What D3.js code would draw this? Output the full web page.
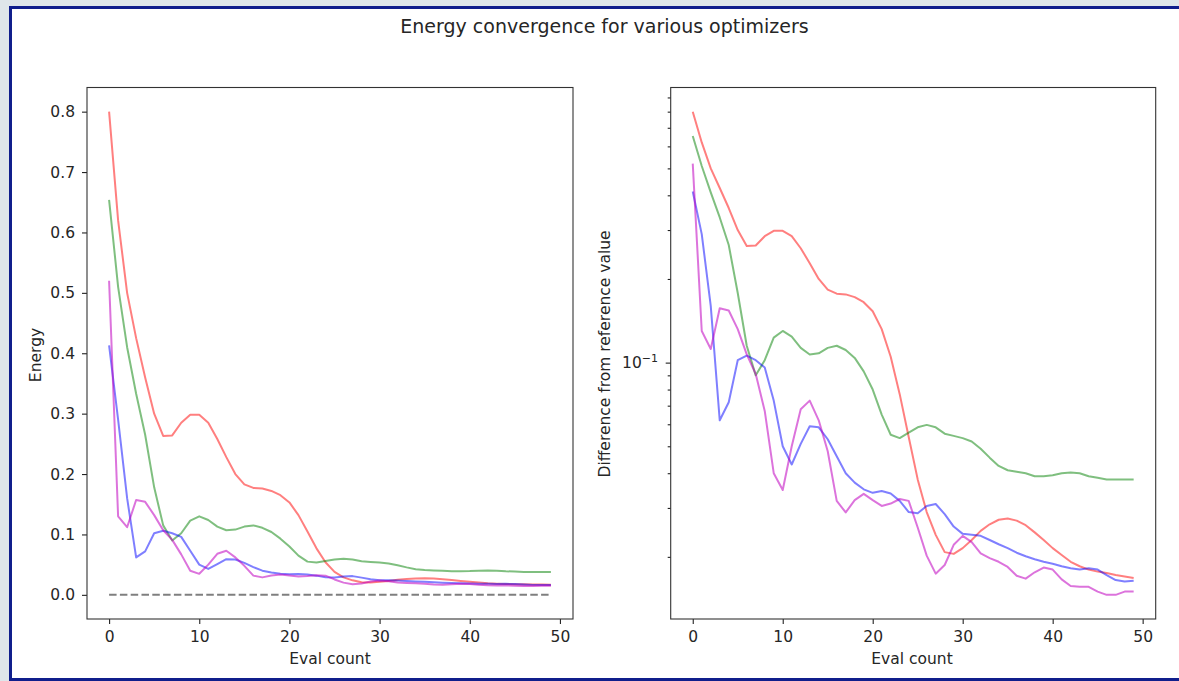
<!DOCTYPE html>
<html>
<head>
<meta charset="utf-8">
<script src="https://cdn.jsdelivr.net/npm/d3@7"></script>
<style>
  html, body { margin: 0; padding: 0; background: #dfe6ea; overflow: hidden; }
  #frame {
    position: absolute; left: 9px; top: 6px;
    width: 1190px; height: 669px;
    border: 3px solid #101e8c; background: #fff;
  }
  svg { position: absolute; left: 0; top: 0; }
  text { font-family: "DejaVu Sans", sans-serif; fill: #262626; }
</style>
</head>
<body>
<div id="frame"></div>
<svg id="chart" width="1179" height="681"></svg>
<script>
// energy per evaluation
var redEnergy = [0.80, 0.62, 0.50, 0.425, 0.36, 0.30, 0.263, 0.264, 0.285, 0.298,
    0.298, 0.285, 0.258, 0.228, 0.20, 0.183, 0.177, 0.176, 0.172, 0.165,
    0.153, 0.132, 0.105, 0.077, 0.054, 0.038, 0.029, 0.024, 0.0208, 0.0205,
    0.0215, 0.023, 0.0248, 0.0262, 0.0272, 0.0275, 0.0270, 0.0260, 0.0245, 0.0230,
    0.0215, 0.0203, 0.0192, 0.0185, 0.0180, 0.0177, 0.0175, 0.0172, 0.0170, 0.0168];
var greenEnergy = [0.654, 0.51, 0.41, 0.333, 0.265, 0.178, 0.115, 0.090, 0.102, 0.123,
    0.130, 0.124, 0.113, 0.107, 0.108, 0.113, 0.115, 0.111, 0.104, 0.093,
    0.080, 0.065, 0.055, 0.0535, 0.056, 0.0585, 0.0597, 0.0585, 0.0555, 0.0545,
    0.0535, 0.052, 0.049, 0.0455, 0.0425, 0.041, 0.0405, 0.040, 0.039, 0.039,
    0.0393, 0.040, 0.0402, 0.040, 0.039, 0.0385, 0.038, 0.038, 0.038, 0.038];
var blueEnergy = [0.413, 0.29, 0.16, 0.062, 0.072, 0.102, 0.106, 0.102, 0.096, 0.073,
    0.050, 0.043, 0.051, 0.059, 0.0585, 0.053, 0.046, 0.040, 0.037, 0.035,
    0.034, 0.0345, 0.0338, 0.0318, 0.029, 0.0287, 0.0305, 0.031, 0.0285, 0.0257,
    0.0242, 0.024, 0.0238, 0.023, 0.0222, 0.0215, 0.0207, 0.0201, 0.0196, 0.0192,
    0.0189, 0.0185, 0.0182, 0.018, 0.0182, 0.018, 0.0172, 0.0165, 0.0163, 0.0164];
var magentaEnergy = [0.520, 0.130, 0.112, 0.157, 0.154, 0.132, 0.107, 0.091, 0.067, 0.040,
    0.0348, 0.050, 0.068, 0.073, 0.062, 0.048, 0.0318, 0.0289, 0.0320, 0.0337,
    0.0320, 0.0305, 0.0311, 0.0323, 0.0318, 0.0255, 0.0202, 0.0174, 0.0187, 0.0221,
    0.0238, 0.0226, 0.0206, 0.0198, 0.0192, 0.0184, 0.0171, 0.0167, 0.0176, 0.0183,
    0.018, 0.0166, 0.0157, 0.0156, 0.0156, 0.0150, 0.0146, 0.0146, 0.0150, 0.0150];
var referenceValue = 0;

var xTicks = [0, 10, 20, 30, 40, 50];
var energyTicks = [0.0, 0.1, 0.2, 0.3, 0.4, 0.5, 0.6, 0.7, 0.8];
var logMinorTicks = [0.02, 0.03, 0.04, 0.05, 0.06, 0.07, 0.08, 0.09,
    0.2, 0.3, 0.4, 0.5, 0.6, 0.7, 0.8, 0.9];

var series = [
    {values: redEnergy, color: "rgba(255,0,0,0.5)"},
    {values: greenEnergy, color: "rgba(0,128,0,0.5)"},
    {values: blueEnergy, color: "rgba(0,0,255,0.5)"},
    {values: magentaEnergy, color: "rgba(191,0,191,0.55)"}
];

var svg = d3.select("#chart");
var top0 = 87.5, bottom0 = 619;
var fs = "15.5px";

// matplotlib style 5% margins
function padded(lo, hi) {
    var m = (hi - lo) * 0.05;
    return [lo - m, hi + m];
}

var n = redEnergy.length;
var xDomain = padded(0, n - 1);
var all = [].concat(redEnergy, greenEnergy, blueEnergy, magentaEnergy);

var xLeft = d3.scaleLinear().domain(xDomain).range([87, 573]);
var yLeft = d3.scaleLinear().domain(padded(referenceValue, d3.max(all))).range([bottom0, top0]);

var diffs = all.map(d => d - referenceValue);
var logPad = padded(Math.log10(d3.min(diffs)), Math.log10(d3.max(diffs)));
var xRight = d3.scaleLinear().domain(xDomain).range([670.7, 1155.7]);
var yRight = d3.scaleLog().domain([Math.pow(10, logPad[0]), Math.pow(10, logPad[1])]).range([bottom0, top0]);

function styleAxis(g) {
    g.select(".domain").remove();
    g.selectAll(".tick line").attr("stroke", "#222").attr("stroke-width", 1.1);
    g.selectAll(".tick text").style("font-size", fs).attr("fill", "#262626")
        .style("font-family", "DejaVu Sans, sans-serif");
}

// ---- left panel
var L = svg.append("g");
L.append("g").attr("transform", `translate(0,${bottom0})`)
    .call(d3.axisBottom(xLeft).tickValues(xTicks).tickSize(5).tickPadding(7))
    .call(styleAxis);
L.append("g").attr("transform", "translate(87,0)")
    .call(d3.axisLeft(yLeft).tickValues(energyTicks).tickFormat(d3.format(".1f")).tickSize(5).tickPadding(7))
    .call(styleAxis);

L.append("line")
    .attr("x1", xLeft(0)).attr("x2", xLeft(n - 1))
    .attr("y1", yLeft(referenceValue)).attr("y2", yLeft(referenceValue))
    .attr("stroke", "rgba(0,0,0,0.5)").attr("stroke-width", 2)
    .attr("stroke-dasharray", "7.5,3.3");

var lineLeft = d3.line().x((d, i) => xLeft(i)).y(d => yLeft(d));
series.forEach(s => {
    L.append("path").attr("d", lineLeft(s.values))
        .attr("fill", "none").attr("stroke", s.color)
        .attr("stroke-width", 2).attr("stroke-linejoin", "round");
});

L.append("rect").attr("x", 87).attr("y", top0).attr("width", 486).attr("height", bottom0 - top0)
    .attr("fill", "none").attr("stroke", "#333").attr("stroke-width", 1.1);

L.append("text").attr("x", 330).attr("y", 664).attr("text-anchor", "middle")
    .style("font-size", fs).text("Eval count");
L.append("text").attr("transform", "translate(41,355) rotate(-90)").attr("text-anchor", "middle")
    .style("font-size", fs).text("Energy");

// ---- right panel
var R = svg.append("g");
R.append("g").attr("transform", `translate(0,${bottom0})`)
    .call(d3.axisBottom(xRight).tickValues(xTicks).tickSize(5).tickPadding(7))
    .call(styleAxis);
R.append("g").attr("transform", "translate(670.7,0)")
    .call(d3.axisLeft(yRight).tickValues(logMinorTicks).tickFormat("").tickSize(3))
    .call(styleAxis);
R.append("g").attr("transform", "translate(670.7,0)")
    .call(d3.axisLeft(yRight).tickValues([0.1]).tickFormat("").tickSize(5))
    .call(styleAxis);

var major = R.append("text").attr("x", 658).attr("y", yRight(0.1) + 5.5)
    .attr("text-anchor", "end").style("font-size", fs);
major.append("tspan").text("10");
major.append("tspan").attr("dy", -6.5).style("font-size", "11px").text("\u22121");

var lineRight = d3.line().x((d, i) => xRight(i)).y(d => yRight(d - referenceValue));
series.forEach(s => {
    R.append("path").attr("d", lineRight(s.values))
        .attr("fill", "none").attr("stroke", s.color)
        .attr("stroke-width", 2).attr("stroke-linejoin", "round");
});

R.append("rect").attr("x", 670.7).attr("y", top0).attr("width", 485).attr("height", bottom0 - top0)
    .attr("fill", "none").attr("stroke", "#333").attr("stroke-width", 1.1);

R.append("text").attr("x", 912).attr("y", 664).attr("text-anchor", "middle")
    .style("font-size", fs).text("Eval count");
R.append("text").attr("transform", "translate(610,354) rotate(-90)").attr("text-anchor", "middle")
    .style("font-size", fs).text("Difference from reference value");

svg.append("text").attr("x", 604.5).attr("y", 33).attr("text-anchor", "middle")
    .style("font-size", "19px").text("Energy convergence for various optimizers");
</script>
</body>
</html>
